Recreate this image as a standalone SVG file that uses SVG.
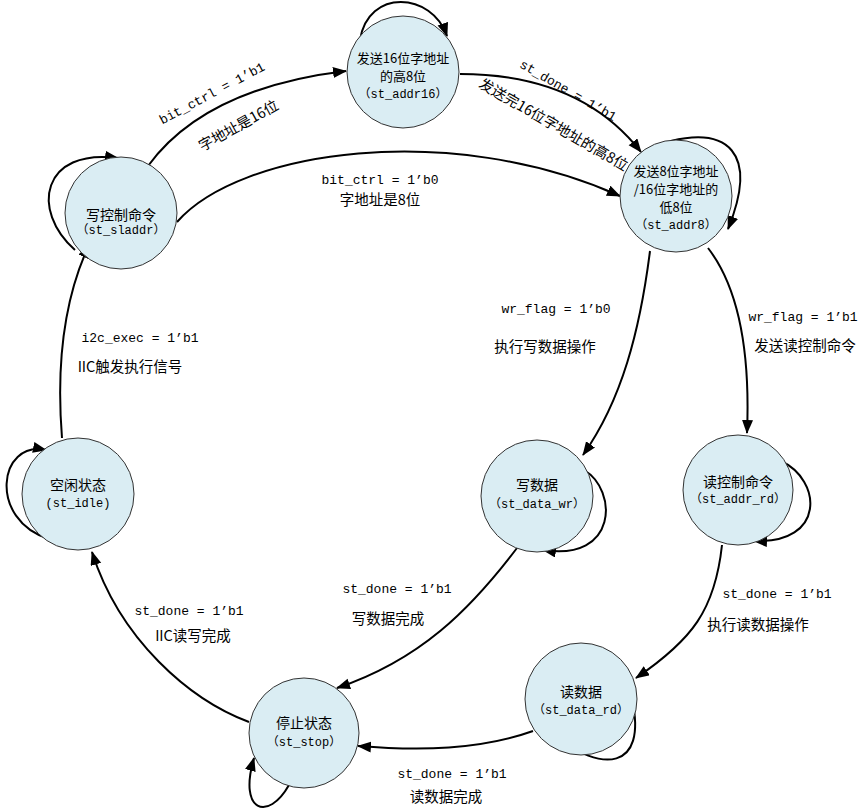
<svg xmlns="http://www.w3.org/2000/svg" width="863" height="812" viewBox="0 0 863 812">
<style>
.n circle{fill:#daedf3;stroke:#333;stroke-width:1}
.n text{font-family:"Noto Sans CJK SC","Liberation Sans",sans-serif;font-size:14px;text-anchor:middle;fill:#000}
.n text.s{font-size:13px}
.n text.c{font-family:"Liberation Mono","Noto Sans CJK SC",monospace;font-size:12px}
.e path{fill:none;stroke:#000;stroke-width:2;marker-end:url(#ah)}
.l text{font-family:"Liberation Mono","Noto Sans CJK SC",monospace;font-size:13px;text-anchor:middle;fill:#000}
.l text.z{font-family:"Noto Sans CJK SC","Liberation Sans",sans-serif;font-size:14.5px}
</style>
<defs>
<marker id="ah" markerUnits="userSpaceOnUse" markerWidth="14" markerHeight="12" refX="13" refY="5.5" orient="auto">
<path d="M0,0 L14,5.5 L0,11 z" fill="#000"/>
</marker>
</defs>
<rect width="863" height="812" fill="#fff"/>
<g class="e" id="connectors">
<path d="M148 166 Q 205 88 346 71"/>
<path d="M177 222 C 240 150, 450 120, 620 196"/>
<path d="M460 74 Q 580 74 641 152"/>
<path d="M671 141 C 725 128, 760 150, 728 229"/>
<path d="M360 40 C 368 -12, 432 -8, 447 36"/>
<path d="M75 250 C 30 210, 42 148, 118 158"/>
<path d="M62 438 C 55 350, 68 290, 89 245"/>
<path d="M49 539 C -12 520, -2 440, 46 450"/>
<path d="M650 251 C 640 330, 622 400, 583 455"/>
<path d="M708 248 C 742 292, 750 360, 747 433"/>
<path d="M584 470 C 618 490, 618 562, 543 550"/>
<path d="M781 461 C 822 480, 826 544, 754 541"/>
<path d="M517 548 C 470 610, 420 660, 337 688"/>
<path d="M722 545 C 715 610, 692 640, 636 678"/>
<path d="M632 699 C 648 772, 600 772, 555 736"/>
<path d="M533 731 C 480 750, 420 751, 358 746"/>
<path d="M289 785 C 268 822, 238 812, 254 758"/>
<path d="M249 722 C 190 700, 120 640, 92 552"/>
</g>
<g class="l" id="labels">
<text transform="translate(214 97) rotate(-28)">bit_ctrl = 1’b1</text>
<text class="z" transform="translate(241 130) rotate(-29)">字地址是16位</text>
<text x="380" y="184">bit_ctrl = 1’b0</text>
<text class="z" x="380" y="205">字地址是8位</text>
<text transform="translate(566 94) rotate(30)">st_done = 1’b1</text>
<text class="z" transform="translate(551 129) rotate(30)">发送完16位字地址的高8位</text>
<text x="140" y="342">i2c_exec = 1’b1</text>
<text class="z" x="130" y="372">IIC触发执行信号</text>
<text x="556" y="313">wr_flag = 1’b0</text>
<text class="z" x="545" y="352">执行写数据操作</text>
<text x="803" y="321">wr_flag = 1’b1</text>
<text class="z" x="805" y="351">发送读控制命令</text>
<text x="397" y="593">st_done = 1’b1</text>
<text class="z" x="388" y="624">写数据完成</text>
<text x="777" y="598">st_done = 1’b1</text>
<text class="z" x="758" y="630">执行读数据操作</text>
<text x="452" y="778">st_done = 1’b1</text>
<text class="z" x="446" y="802">读数据完成</text>
<text x="189" y="615">st_done = 1’b1</text>
<text class="z" x="193" y="641">IIC读写完成</text>
</g>
<g class="n" id="st_addr16">
<circle cx="403" cy="72" r="56"/>
<text class="s" x="403" y="63">发送16位字地址</text>
<text class="s" x="403" y="81">的高8位</text>
<text class="c" x="403" y="98">（st_addr16）</text>
</g>
<g class="n" id="st_addr8">
<circle cx="676" cy="196" r="56"/>
<text class="s" x="676" y="176">发送8位字地址</text>
<text class="s" x="676" y="194">/16位字地址的</text>
<text class="s" x="676" y="212">低8位</text>
<text class="c" x="676" y="229">（st_addr8）</text>
</g>
<g class="n" id="st_sladdr">
<circle cx="121" cy="213" r="56"/>
<text x="121" y="220">写控制命令</text>
<text class="c" x="121" y="234">（st_sladdr）</text>
</g>
<g class="n" id="st_idle">
<circle cx="78" cy="494" r="56"/>
<text x="78" y="490">空闲状态</text>
<text class="c" x="78" y="507">(st_idle)</text>
</g>
<g class="n" id="st_data_wr">
<circle cx="537" cy="496" r="56"/>
<text x="537" y="490">写数据</text>
<text class="c" x="537" y="508">（st_data_wr）</text>
</g>
<g class="n" id="st_addr_rd">
<circle cx="738" cy="490" r="55"/>
<text x="738" y="487">读控制命令</text>
<text class="c" x="738" y="503">（st_addr_rd）</text>
</g>
<g class="n" id="st_data_rd">
<circle cx="581" cy="699" r="56"/>
<text x="581" y="697">读数据</text>
<text class="c" x="581" y="714">（st_data_rd）</text>
</g>
<g class="n" id="st_stop">
<circle cx="304" cy="733" r="55"/>
<text x="304" y="728">停止状态</text>
<text class="c" x="304" y="746">（st_stop）</text>
</g>
</svg>
